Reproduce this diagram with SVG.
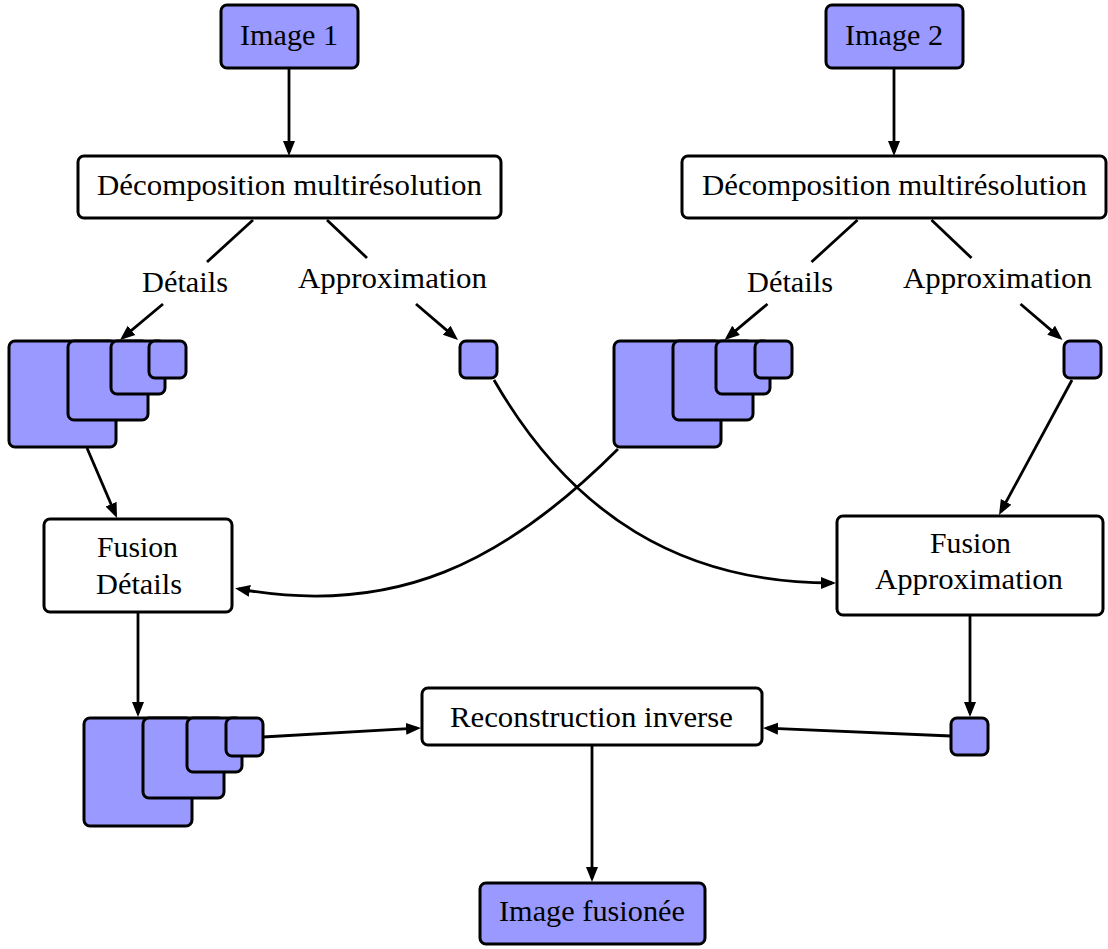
<svg xmlns="http://www.w3.org/2000/svg" width="1108" height="949" viewBox="0 0 1108 949">
<style>
  .box { fill: #ffffff; stroke: #000; stroke-width: 3; }
  .blue { fill: #9999ff; stroke: #000; stroke-width: 3; }
  .t { font-family: "Liberation Serif", "DejaVu Serif", serif; font-size: 29px; fill: #000; }
  .ln { fill: none; stroke: #000; stroke-width: 2.8; }
  .ar { fill: none; stroke: #000; stroke-width: 2.8; marker-end: url(#arr); }
</style>
<defs>
  <marker id="arr" markerUnits="userSpaceOnUse" viewBox="0 -7 16 14" refX="11" refY="0" markerWidth="16" markerHeight="14" orient="auto">
    <path d="M0,-6 L15,0 L0,6 Z" fill="#000"/>
  </marker>
</defs>
<rect width="1108" height="949" fill="#ffffff"/>

<g id="connectors">
  <line class="ar" x1="289" y1="69" x2="289" y2="152"/>
  <line class="ar" x1="894" y1="69" x2="894" y2="152"/>
  <line class="ln" x1="253" y1="220" x2="207" y2="262"/>
  <line class="ar" x1="163" y1="304" x2="123.1" y2="337.4"/>
  <line class="ln" x1="327" y1="220" x2="367" y2="258"/>
  <line class="ar" x1="416" y1="304" x2="455" y2="337.4"/>
  <line class="ln" x1="857.5" y1="220" x2="811.5" y2="262"/>
  <line class="ar" x1="767.5" y1="304" x2="727.6" y2="337.4"/>
  <line class="ln" x1="931.5" y1="220" x2="971.5" y2="258"/>
  <line class="ar" x1="1020.5" y1="304" x2="1059.5" y2="337.4"/>
  <line class="ar" x1="87" y1="448" x2="115.4" y2="514.3"/>
  <line class="ar" x1="1072" y1="380" x2="1000.9" y2="511.5"/>
  <path class="ar" d="M618,449 C505,562 395,617 239,589"/>
  <path class="ar" d="M494,380 C572,515 681,583 832,583"/>
  <line class="ar" x1="138" y1="613" x2="138" y2="713"/>
  <line class="ar" x1="970" y1="616" x2="970" y2="713"/>
  <line class="ar" x1="263" y1="737" x2="417" y2="728.2"/>
  <line class="ar" x1="951" y1="736" x2="767" y2="728.2"/>
  <line class="ar" x1="592" y1="746" x2="592" y2="878"/>
</g>

<g id="image1">
  <rect class="blue" x="221" y="5" width="137" height="63" rx="6"/>
  <text class="t" x="240" y="45" textLength="98" lengthAdjust="spacingAndGlyphs">Image 1</text>
</g>
<g id="image2">
  <rect class="blue" x="826" y="5" width="137" height="63" rx="6"/>
  <text class="t" x="845" y="45" textLength="98" lengthAdjust="spacingAndGlyphs">Image 2</text>
</g>
<g id="decomp1">
  <rect class="box" x="78" y="156" width="423" height="62" rx="6"/>
  <text class="t" x="97" y="195" textLength="385" lengthAdjust="spacingAndGlyphs">Décomposition multirésolution</text>
</g>
<g id="decomp2">
  <rect class="box" x="682" y="156" width="424" height="62" rx="6"/>
  <text class="t" x="702" y="195" textLength="385" lengthAdjust="spacingAndGlyphs">Décomposition multirésolution</text>
</g>
<g id="label-details1">
  <text class="t" x="142" y="292" textLength="86" lengthAdjust="spacingAndGlyphs">Détails</text>
</g>
<g id="label-approx1">
  <text class="t" x="298" y="288" textLength="189" lengthAdjust="spacingAndGlyphs">Approximation</text>
</g>
<g id="label-details2">
  <text class="t" x="747" y="292" textLength="86" lengthAdjust="spacingAndGlyphs">Détails</text>
</g>
<g id="label-approx2">
  <text class="t" x="903" y="288" textLength="189" lengthAdjust="spacingAndGlyphs">Approximation</text>
</g>
<g id="details1">
  <rect class="blue" x="9" y="341" width="107" height="106" rx="6"/>
  <rect class="blue" x="68" y="341" width="80" height="79" rx="6"/>
  <rect class="blue" x="111" y="341" width="54" height="53" rx="6"/>
  <rect class="blue" x="149" y="341" width="37" height="37" rx="6"/>
</g>
<g id="approx1">
  <rect class="blue" x="460" y="341" width="37" height="37" rx="6"/>
</g>
<g id="details2">
  <rect class="blue" x="614" y="341" width="107" height="106" rx="6"/>
  <rect class="blue" x="673" y="341" width="80" height="79" rx="6"/>
  <rect class="blue" x="716" y="341" width="54" height="53" rx="6"/>
  <rect class="blue" x="755" y="341" width="37" height="37" rx="6"/>
</g>
<g id="approx2">
  <rect class="blue" x="1064" y="341" width="37" height="37" rx="6"/>
</g>
<g id="fusion-details">
  <rect class="box" x="44" y="519" width="188" height="93" rx="6"/>
  <text class="t" x="97" y="557" textLength="81" lengthAdjust="spacingAndGlyphs">Fusion</text>
  <text class="t" x="96" y="594" textLength="86" lengthAdjust="spacingAndGlyphs">Détails</text>
</g>
<g id="fusion-approx">
  <rect class="box" x="837" y="516" width="266" height="99" rx="6"/>
  <text class="t" x="930" y="553" textLength="81" lengthAdjust="spacingAndGlyphs">Fusion</text>
  <text class="t" x="875" y="589" textLength="188" lengthAdjust="spacingAndGlyphs">Approximation</text>
</g>
<g id="details-fused">
  <rect class="blue" x="84" y="718" width="108" height="108" rx="6"/>
  <rect class="blue" x="143" y="718" width="81" height="80" rx="6"/>
  <rect class="blue" x="187" y="718" width="55" height="54" rx="6"/>
  <rect class="blue" x="226" y="718" width="37" height="38" rx="6"/>
</g>
<g id="approx-fused">
  <rect class="blue" x="951" y="718" width="37" height="37" rx="6"/>
</g>
<g id="reconstruction">
  <rect class="box" x="422" y="688" width="340" height="57" rx="6"/>
  <text class="t" x="450" y="727" textLength="283" lengthAdjust="spacingAndGlyphs">Reconstruction inverse</text>
</g>
<g id="image-fused">
  <rect class="blue" x="480" y="883" width="225" height="61" rx="6"/>
  <text class="t" x="499" y="921" textLength="186" lengthAdjust="spacingAndGlyphs">Image fusionée</text>
</g>
</svg>
